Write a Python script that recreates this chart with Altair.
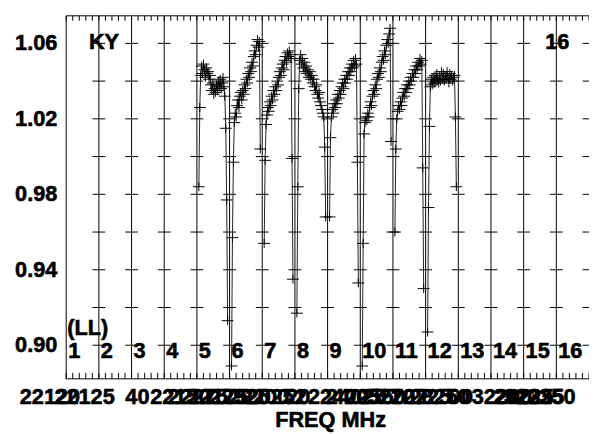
import altair as alt
import pandas as pd

W, H = 530, 368
Y_MIN, Y_MAX = 0.8822, 1.0746
FONT = "Liberation Sans"

# ---- data ----
if_ids = [5, 6, 7, 8, 9, 10, 11, 12]
if5 = [0.984, 1.026, 1.043, 1.048, 1.044, 1.049, 1.046, 1.042, 1.047, 1.044, 1.045, 1.041,
       1.043, 1.038, 1.035, 1.039, 1.033, 1.036, 1.034, 1.038, 1.035, 1.040, 1.037, 1.041,
       1.036, 1.039, 1.042, 1.037, 1.032, 1.015, 0.977, 0.913]
if6 = [0.889, 0.957, 0.997, 1.018, 1.023, 1.021, 1.027, 1.030, 1.026, 1.032, 1.034, 1.030,
       1.035, 1.033, 1.038, 1.036, 1.041, 1.039, 1.044, 1.042, 1.047, 1.045, 1.050, 1.048,
       1.053, 1.056, 1.054, 1.059, 1.062, 1.058, 1.061, 1.004]
if7 = [0.954, 0.998, 1.017, 1.022, 1.026, 1.024, 1.029, 1.027, 1.032, 1.030, 1.035, 1.033,
       1.037, 1.035, 1.040, 1.038, 1.042, 1.045, 1.043, 1.047, 1.049, 1.046, 1.051, 1.053,
       1.050, 1.055, 1.053, 1.056, 1.054, 1.052, 0.999, 0.935]
if8 = [0.917, 0.984, 1.036, 1.051, 1.054, 1.049, 1.052, 1.047, 1.050, 1.045, 1.048, 1.044,
       1.046, 1.042, 1.045, 1.041, 1.043, 1.039, 1.041, 1.037, 1.035, 1.038, 1.033, 1.031,
       1.034, 1.029, 1.027, 1.025, 1.023, 1.021, 1.005, 0.968]
if9 = [0.968, 1.010, 1.021, 1.025, 1.023, 1.028, 1.026, 1.030, 1.028, 1.033, 1.031, 1.035,
       1.033, 1.037, 1.039, 1.036, 1.041, 1.039, 1.043, 1.041, 1.045, 1.043, 1.047, 1.045,
       1.049, 1.047, 1.051, 1.048, 1.052, 1.049, 0.997, 0.933]
if10 = [0.889, 0.954, 1.012, 1.018, 1.021, 1.019, 1.023, 1.021, 1.026, 1.029, 1.027, 1.032,
        1.035, 1.033, 1.038, 1.036, 1.041, 1.044, 1.042, 1.047, 1.045, 1.050, 1.053, 1.051,
        1.056, 1.054, 1.059, 1.062, 1.060, 1.065, 1.068, 1.008]
if11 = [0.960, 1.004, 1.020, 1.024, 1.027, 1.025, 1.029, 1.027, 1.031, 1.034, 1.032, 1.036,
        1.034, 1.038, 1.036, 1.040, 1.038, 1.042, 1.040, 1.044, 1.042, 1.046, 1.044, 1.048,
        1.046, 1.050, 1.048, 1.052, 1.049, 1.051, 0.994, 0.930]
if12 = [0.907, 0.973, 1.016, 1.037, 1.041, 1.038, 1.042, 1.039, 1.043, 1.040, 1.044, 1.041,
        1.039, 1.043, 1.040, 1.045, 1.041, 1.044, 1.040, 1.043, 1.041, 1.045, 1.042, 1.039,
        1.044, 1.041, 1.043, 1.040, 1.042, 1.043, 1.021, 0.984]
series = [if5, if6, if7, if8, if9, if10, if11, if12]

if_numbers = list(range(1, 17))
grid_levels = [0.90, 0.92, 0.94, 0.96, 0.98, 1.00, 1.02, 1.04, 1.06]
y_labels = [0.90, 0.94, 0.98, 1.02, 1.06]

freq_label_text = ["22120", "22125", "40", "22150", "22275", "22175", "22925", "22200",
                   "20252", "20", "22400", "24025", "22550", "52702", "22725", "28250",
                   "00", "32200", "20225", "32325", "22350"]
freq_label_pos = [-1.42, -0.36, 1.81, 2.57, 3.11, 3.71, 4.38, 4.98,
                  5.52, 6.73, 7.40, 7.94, 8.54, 9.21, 9.93, 10.51,
                  11.71, 12.41, 13.07, 13.40, 13.74]

# ---- tables ----
rows = []
for i, vals in zip(if_ids, series):
    n = len(vals)
    for c, v in enumerate(vals):
        rows.append({"IF": i, "ch": c, "x": (i - 1) + 0.06 + c * 0.88 / (n - 1), "v": v})
df = pd.DataFrame(rows)

dash_df = pd.DataFrame([{"x": b, "y": lv} for b in if_numbers for lv in grid_levels])
vline_df = pd.DataFrame({"x": if_numbers[:-1]})
tick_df = pd.DataFrame({"x": [k / 5 for k in range(0, 81)]})
ifnum_df = pd.DataFrame({"x": [n - 1 for n in if_numbers], "t": [str(n) for n in if_numbers]})
flab_df = pd.DataFrame({"x": freq_label_pos, "t": freq_label_text})
ylab_df = pd.DataFrame({"y": y_labels, "t": [f"{v:.2f}" for v in y_labels]})

xs = alt.Scale(domain=[0, 16], nice=False, zero=False)
ys = alt.Scale(domain=[Y_MIN, Y_MAX], nice=False, zero=False)

X = lambda: alt.X("x:Q", scale=xs, axis=None)
Y = lambda f: alt.Y(f, scale=ys, axis=None)

vlines = alt.Chart(vline_df).mark_rule(color="black", strokeWidth=1).encode(x=X())

dashes = alt.Chart(dash_df).mark_point(shape="M-1,0H1", size=169, filled=False, color="black",
                                       strokeWidth=1, opacity=1, clip=True).encode(
    x=X(), y=Y("y:Q"))

top_ticks = alt.Chart(tick_df).mark_rule(color="black", strokeWidth=1).encode(
    x=X(), y=alt.value(0), y2=alt.value(5))
bot_ticks = alt.Chart(tick_df).mark_rule(color="black", strokeWidth=1).encode(
    x=X(), y=alt.value(H - 6), y2=alt.value(H))

frame_df = pd.DataFrame({"k": [0]})
frame_top = alt.Chart(frame_df).mark_rule(color="black", strokeWidth=1).encode(
    x=alt.value(0), x2=alt.value(W), y=alt.value(0))
frame_bot = alt.Chart(frame_df).mark_rule(color="black", strokeWidth=1).encode(
    x=alt.value(0), x2=alt.value(W), y=alt.value(H))
frame_left = alt.Chart(frame_df).mark_rule(color="black", strokeWidth=1).encode(
    x=alt.value(0), y=alt.value(0), y2=alt.value(H))

lines = alt.Chart(df).mark_line(color="#222222", strokeWidth=1).encode(
    x=X(), y=Y("v:Q"), detail="IF:N", order="ch:Q")
crosses = alt.Chart(df).mark_point(shape="M-1,0H1M0,-0.75V0.75", size=144, filled=False,
                                   color="black", strokeWidth=1, opacity=1).encode(
    x=X(), y=Y("v:Q"))

txt = dict(font=FONT, fontSize=22, fontWeight="bold", color="black",
           stroke="black", strokeWidth=0.6)
ylabs = alt.Chart(ylab_df).mark_text(align="right", baseline="middle", **txt).encode(
    x=alt.value(-9), y=Y("y:Q"), text="t:N")
ifnums = alt.Chart(ifnum_df).mark_text(align="left", baseline="alphabetic", dx=2, **txt).encode(
    x=X(), y=alt.value(347), text="t:N")
flabs = alt.Chart(flab_df).mark_text(align="left", baseline="alphabetic", **txt).encode(
    x=X(), y=alt.value(394), text="t:N")

def label(s, x, y, align):
    return alt.Chart(pd.DataFrame({"t": [s]})).mark_text(align=align, baseline="alphabetic", **txt).encode(
        text="t:N", x=alt.value(x), y=alt.value(y))

ky = label("KY", 23, 34, "left")
num16 = label("16", 510, 34, "right")
ll = label("(LL)", 1, 324, "left")
xtitle = label("FREQ MHz", 268, 417, "center")

chart = alt.layer(
    vlines, dashes, top_ticks, bot_ticks, frame_top, frame_bot, frame_left,
    lines, crosses, ylabs, ifnums, flabs, ky, num16, ll, xtitle
).properties(
    width=W, height=H,
    padding={"left": 59, "top": 5, "right": 0, "bottom": 52},
    autosize=alt.AutoSizeParams(type="none"),
    background="white",
).configure_view(stroke=None)

chart.save("out.html", embed_options={"renderer": "svg", "actions": False})
